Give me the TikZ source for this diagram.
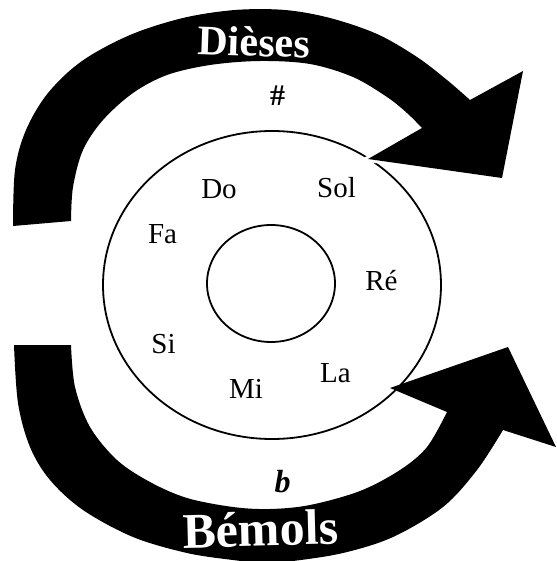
\documentclass[tikz,border=0pt]{standalone}
\usepackage{fontspec}
\setmainfont{Liberation Serif}
\begin{document}
\begin{tikzpicture}[x=1pt,y=-1pt,
  note/.style={font=\fontsize{29}{29}\selectfont, anchor=base, inner sep=0pt},
  title/.style={text=white, font=\bfseries, anchor=base, inner sep=0pt},
  band/.style={fill=black},
  halo/.style={draw=white, line width=6pt, line join=miter},
  ring/.style={draw=black, line width=1.8pt}]
\useasboundingbox (0,0) rectangle (556,561);
\clip (0,0) rectangle (556,561);
% circles
\draw[ring] (272,285) ellipse [x radius=169, y radius=154];
\draw[ring] (271,283.5) ellipse [x radius=64, y radius=58.5];
% top arrow (Dieses)
\def\toparrow{(71,221) -- (13,226) -- plot[smooth, tension=0.55] coordinates {(13,226) (15,170) (26,130) (48,93) (82,61) (130,35) (183,18) (235,10) (285,10) (330,18) (377,34) (417,57) (447,80) (470,100)} -- (523,71) -- (502,178) -- (368,159) -- (422,128) -- plot[smooth, tension=0.55] coordinates {(422,128) (407,113) (387,97) (353,77) (310,64) (260,61) (210,65) (167,75) (133,93) (103,120) (83,150) (73,187) (71,221)} -- cycle}
\path[halo] \toparrow;
\fill[band] \toparrow;
% bottom arrow (Bemols)
\fill[band] (14,345) -- (71,345) -- plot[smooth, tension=0.55] coordinates {(71,345) (75,387) (90,427) (117,460) (150,482) (187,498) (233,507) (270,509) (310,505) (360,491) (400,470) (427,447) (447,412)} -- (390,388) -- (508,347) -- (556,447) -- (503,430) -- plot[smooth, tension=0.55] coordinates {(503,430) (477,470) (443,507) (393,537) (343,553) (293,561) (265,563) (233,560) (187,553) (133,537) (83,510) (50,480) (30,447) (18,403) (14,345)} -- cycle;
% titles
\node[title, font=\fontsize{42}{42}\selectfont\bfseries, rotate=-2] (dieses) at (253.5,56) {Dièses};
\node[title, font=\fontsize{50}{50}\selectfont\bfseries, rotate=1.5] (bemols) at (261,546) {Bémols};
% signs
\node[font=\fontsize{30}{30}\selectfont\bfseries, inner sep=0pt] (sharp) at (277.5,96) {\#};
\node[note, font=\fontsize{32}{32}\selectfont\bfseries\itshape] (flat) at (282.5,492) {b};
% notes
\node[note] (do)  at (219,198)   {Do};
\node[note] (sol) at (336.5,197) {Sol};
\node[note] (fa)  at (162.5,243) {Fa};
\node[note] (re)  at (381.5,290) {Ré};
\node[note] (si)  at (163.5,353) {Si};
\node[note] (mi)  at (246,398)   {Mi};
\node[note] (la)  at (335.5,382) {La};
\end{tikzpicture}
\end{document}
